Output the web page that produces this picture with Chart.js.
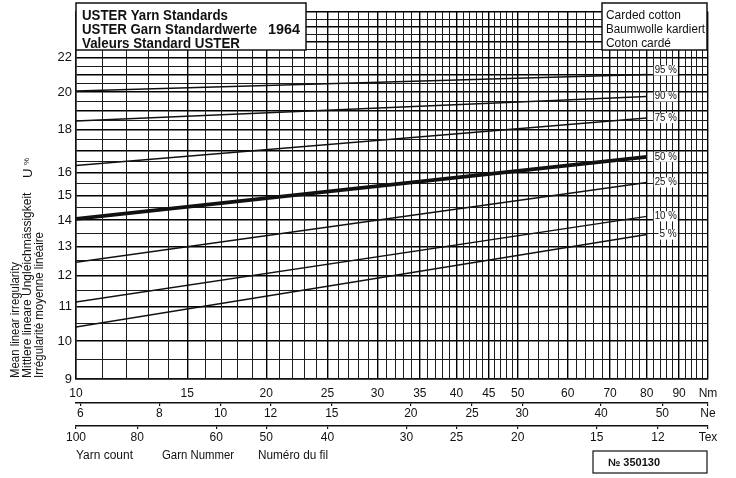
<!DOCTYPE html>
<html>
<head>
<meta charset="utf-8">
<script src="https://cdn.jsdelivr.net/npm/chart.js@4.4.1/dist/chart.umd.min.js"></script>
<style>
  html, body { margin: 0; padding: 0; background: #fff; }
  #wrap { width: 736px; height: 478px; }
</style>
</head>
<body>
<div id="wrap"><canvas id="chart" width="736" height="478"></canvas></div>
<script>
// yarn count Nm at the two ends of each percentile line
const nmCounts = [10, 80];
const p5 = [10.4, 13.45];
const p10 = [11.15, 14.15];
const p25 = [12.45, 15.55];
const p50 = [14.05, 16.7];
const p75 = [16.3, 18.6];
const p90 = [18.45, 19.75];
const p95 = [20.05, 21.0];
const percentLabels = ['5 %', '10 %', '25 %', '50 %', '75 %', '90 %', '95 %'];

const yTickLabels = [9, 10, 11, 12, 13, 14, 15, 16, 18, 20, 22];
const nmTickLabels = [10, 15, 20, 25, 30, 35, 40, 45, 50, 60, 70, 80, 90];
const neTickLabels = [6, 8, 10, 12, 15, 20, 25, 30, 40, 50];
const texTickLabels = [100, 80, 60, 50, 40, 30, 25, 20, 15, 12];

const NM_PER_NE = 1.6934;
const FONT = "'Liberation Sans', Arial, Helvetica, sans-serif";
const INK = '#111';

// grid positions (log paper)
const yGrid = [];
for (let v = 9; v <= 25; v += 0.5) yGrid.push(v);
const xGrid = [];
for (let v = 10; v <= 50; v++) xGrid.push(v);
for (let v = 52; v <= 100; v += 2) xGrid.push(v);

const series = [p5, p10, p25, p50, p75, p90, p95];

const labelsPlugin = {
  id: 'uster',
  afterDraw(chart) {
    const { ctx, scales } = chart;
    const x = scales.x, y = scales.y;
    ctx.save();
    ctx.fillStyle = INK;
    ctx.strokeStyle = INK;

    // percentile tags at the line ends
    ctx.font = '10px ' + FONT;
    ctx.textAlign = 'right';
    ctx.textBaseline = 'middle';
    series.forEach((s, i) => {
      const px = x.getPixelForValue(nmCounts[1]) + 30;
      let py = y.getPixelForValue(s[1]);
      if (i === 6) py -= 4;
      const w = Math.min(22, ctx.measureText(percentLabels[i]).width);
      ctx.fillStyle = '#fff';
      ctx.fillRect(px - w - 1, py - 5, w + 2, 10);
      ctx.fillStyle = INK;
      ctx.fillText(percentLabels[i], px, py, 22);
    });

    // title box
    ctx.fillStyle = '#fff';
    ctx.fillRect(76, 3, 230, 47);
    ctx.lineWidth = 1.5;
    ctx.strokeRect(76, 3, 230, 47);
    ctx.fillStyle = INK;
    ctx.textAlign = 'left';
    ctx.textBaseline = 'alphabetic';
    ctx.font = 'bold 15px ' + FONT;
    ctx.fillText('USTER Yarn Standards', 82, 20, 146);
    ctx.fillText('USTER Garn Standardwerte', 82, 34, 175);
    ctx.fillText('1964', 268, 34, 32);
    ctx.fillText('Valeurs Standard USTER', 82, 48, 158);

    // material box
    ctx.fillStyle = '#fff';
    ctx.fillRect(602, 3, 105, 47);
    ctx.strokeRect(602, 3, 105, 47);
    ctx.fillStyle = INK;
    ctx.font = '12px ' + FONT;
    ctx.fillText('Carded cotton', 606, 19, 75);
    ctx.fillText('Baumwolle kardiert', 606, 33, 99);
    ctx.fillText('Coton cardé', 606, 47, 65);

    // rotated axis title
    const rot = (text, cx, cy, maxW, size) => {
      ctx.save();
      ctx.translate(cx, cy);
      ctx.rotate(-Math.PI / 2);
      ctx.font = size + 'px ' + FONT;
      ctx.textAlign = 'left';
      ctx.textBaseline = 'middle';
      ctx.fillText(text, 0, 0, maxW);
      ctx.restore();
    };
    rot('Mean linear irregularity', 16, 378, 116, 12);
    rot('Mittlere lineare Ungleichmässigkeit', 28, 378, 188, 12);
    rot('Irrégularité moyenne linéaire', 40, 378, 146, 12);
    rot('U', 28, 178, 20, 13);
    rot('%', 27, 165, 12, 8);

    // bottom captions
    ctx.font = '12px ' + FONT;
    ctx.textAlign = 'left';
    ctx.textBaseline = 'middle';
    ctx.fillText('Yarn count', 76, 456, 57);
    ctx.fillText('Garn Nummer', 162, 456, 72);
    ctx.fillText('Numéro du fil', 258, 456, 70);

    ctx.lineWidth = 1.2;
    ctx.strokeRect(593, 451, 114, 22);
    ctx.font = 'bold 11px ' + FONT;
    ctx.fillText('№ 350130', 608, 463, 55);
    ctx.restore();
  }
};

const isMajorX = v => nmTickLabels.includes(v) || v === 100;

new Chart(document.getElementById('chart'), {
  type: 'line',
  data: {
    labels: nmCounts,
    datasets: series.map((s, i) => ({
      label: percentLabels[i],
      data: s.map((v, j) => ({ x: nmCounts[j], y: v })),
      borderColor: INK,
      borderWidth: i === 3 ? 3.8 : 1.5,
      pointRadius: 0,
      tension: 0,
      fill: false
    }))
  },
  options: {
    responsive: false,
    animation: false,
    layout: { padding: { top: 3, right: 28, bottom: 32, left: 0 } },
    plugins: { legend: { display: false }, tooltip: { enabled: false } },
    scales: {
      y: {
        type: 'logarithmic', position: 'left', min: 9, max: 25,
        afterBuildTicks: s => { s.ticks = yGrid.map(v => ({ value: v })); },
        afterFit: s => { s.width = 76; },
        ticks: {
          autoSkip: false, padding: 4, color: INK,
          font: { size: 13, family: FONT },
          callback: v => yTickLabels.includes(v) ? String(v) : ''
        },
        grid: {
          drawTicks: false,
          color: c => Number.isInteger(c.tick.value) ? '#000' : '#1c1c1c',
          lineWidth: c => Number.isInteger(c.tick.value) ? 1.4 : 1
        },
        border: { display: true, color: INK, width: 1.5 }
      },
      x: {
        type: 'logarithmic', position: 'bottom', min: 10, max: 100,
        afterBuildTicks: s => { s.ticks = xGrid.map(v => ({ value: v })); },
        afterFit: s => { s.height = 24; },
        ticks: {
          autoSkip: false, maxRotation: 0, padding: 7, color: INK,
          font: { size: 12, family: FONT },
          callback: v => v === 100 ? 'Nm' : (nmTickLabels.includes(v) ? String(v) : '')
        },
        grid: {
          drawTicks: false,
          color: c => isMajorX(c.tick.value) ? '#000' : '#1c1c1c',
          lineWidth: c => isMajorX(c.tick.value) ? 1.4 : 1
        },
        border: { display: true, color: INK, width: 1.5 }
      },
      ne: {
        type: 'logarithmic', position: 'bottom', min: 10 / NM_PER_NE, max: 100 / NM_PER_NE,
        afterBuildTicks: s => { s.ticks = neTickLabels.map(v => ({ value: v })).concat([{ value: 100 / NM_PER_NE }]); },
        afterFit: s => { s.height = 23; },
        ticks: {
          autoSkip: false, maxRotation: 0, padding: 0, color: INK,
          font: { size: 12, family: FONT },
          callback: v => neTickLabels.includes(v) ? String(v) : 'Ne'
        },
        grid: { drawOnChartArea: false, drawTicks: true, tickLength: 3, color: INK, lineWidth: 1.2 },
        border: { display: true, color: INK, width: 1.5 }
      },
      tex: {
        type: 'logarithmic', position: 'bottom', min: 10, max: 100, reverse: true,
        afterBuildTicks: s => { s.ticks = texTickLabels.concat([10]).map(v => ({ value: v })); },
        afterFit: s => { s.height = 20; },
        ticks: {
          autoSkip: false, maxRotation: 0, padding: 1, color: INK,
          font: { size: 12, family: FONT },
          callback: v => v === 10 ? 'Tex' : String(v)
        },
        grid: { drawOnChartArea: false, drawTicks: true, tickLength: 3, color: INK, lineWidth: 1.2 },
        border: { display: true, color: INK, width: 1.5 }
      }
    }
  },
  plugins: [labelsPlugin]
});
</script>
</body>
</html>
